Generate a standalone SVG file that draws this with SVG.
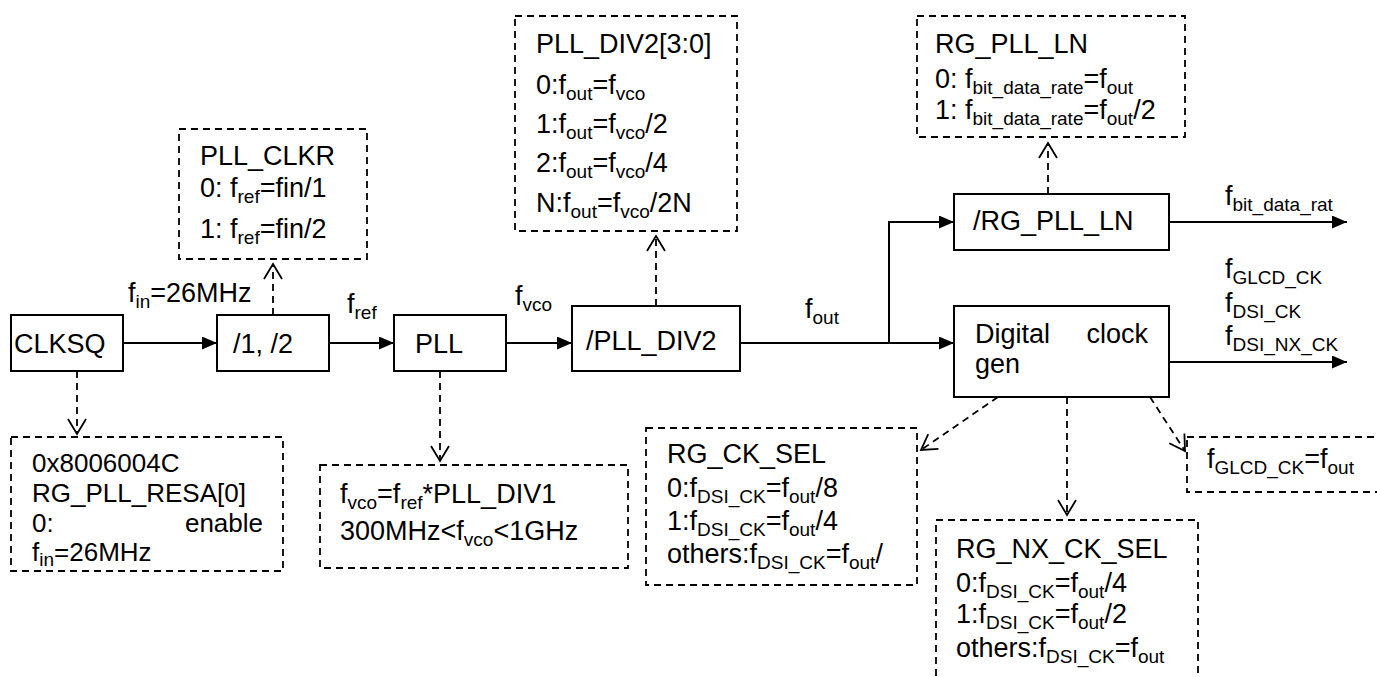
<svg xmlns="http://www.w3.org/2000/svg" width="1377" height="677" viewBox="0 0 1377 677">
<style>
text{font-family:"Liberation Sans",Arial,sans-serif;font-size:27px;fill:#000}
.s{font-size:19px}
.r{font-size:26px}
.box{fill:#fff;stroke:#000;stroke-width:2}
.dbox{fill:#fff;stroke:#000;stroke-width:1.8;stroke-dasharray:7,5}
.ln{fill:none;stroke:#000;stroke-width:2}
.dl{fill:none;stroke:#000;stroke-width:1.8;stroke-dasharray:7,5}
</style>
<defs>
<marker id="fa" markerUnits="userSpaceOnUse" markerWidth="16" markerHeight="14" refX="15" refY="6.5" orient="auto"><path d="M0,0 L15,6.5 L0,13 Z" fill="#000"/></marker>
<marker id="oa" markerUnits="userSpaceOnUse" markerWidth="18" markerHeight="22" refX="16" refY="10" orient="auto"><path d="M1,1 L16,10 L1,19" fill="none" stroke="#000" stroke-width="1.8"/></marker>
</defs>
<rect width="1377" height="677" fill="#fff"/>

<g id="connectors">
<line class="ln" x1="123" y1="343" x2="217" y2="343" marker-end="url(#fa)"/>
<line class="ln" x1="329" y1="343" x2="394" y2="343" marker-end="url(#fa)"/>
<line class="ln" x1="506" y1="343" x2="572" y2="343" marker-end="url(#fa)"/>
<line class="ln" x1="740" y1="343" x2="954" y2="343" marker-end="url(#fa)"/>
<polyline class="ln" points="889,343 889,222 954,222" marker-end="url(#fa)"/>
<line class="ln" x1="1169" y1="222" x2="1347" y2="222" marker-end="url(#fa)"/>
<line class="ln" x1="1169" y1="362" x2="1347" y2="362" marker-end="url(#fa)"/>
<line class="dl" x1="273" y1="315" x2="273" y2="264" marker-end="url(#oa)"/>
<line class="dl" x1="77" y1="371" x2="77" y2="434" marker-end="url(#oa)"/>
<line class="dl" x1="440" y1="371" x2="440" y2="461" marker-end="url(#oa)"/>
<line class="dl" x1="656" y1="306" x2="656" y2="236" marker-end="url(#oa)"/>
<line class="dl" x1="1048" y1="194" x2="1048" y2="143" marker-end="url(#oa)"/>
<line class="dl" x1="998" y1="397" x2="921" y2="450" marker-end="url(#oa)"/>
<line class="dl" x1="1067" y1="397" x2="1067" y2="515" marker-end="url(#oa)"/>
<line class="dl" x1="1150" y1="397" x2="1185" y2="451" marker-end="url(#oa)"/>
</g>

<g id="labels">
<text x="128" y="302">f<tspan class="s" dy="6">in</tspan><tspan dy="-6">=26MHz</tspan></text>
<text x="347" y="313">f<tspan class="s" dy="6">ref</tspan></text>
<text x="515" y="305">f<tspan class="s" dy="6">vco</tspan></text>
<text x="805" y="318">f<tspan class="s" dy="6">out</tspan></text>
<text x="1225" y="205">f<tspan class="s" dy="6">bit_data_rat</tspan></text>
<text x="1225" y="278">f<tspan class="s" dy="6">GLCD_CK</tspan></text>
<text x="1225" y="312">f<tspan class="s" dy="6">DSI_CK</tspan></text>
<text x="1225" y="345">f<tspan class="s" dy="6">DSI_NX_CK</tspan></text>
</g>

<g id="clksq">
<rect class="box" x="11" y="315" width="112" height="56"/>
<text x="14" y="353">CLKSQ</text>
</g>
<g id="div12">
<rect class="box" x="217" y="315" width="112" height="56"/>
<text x="233" y="353">/1, /2</text>
</g>
<g id="pll">
<rect class="box" x="394" y="315" width="112" height="56"/>
<text x="415" y="353">PLL</text>
</g>
<g id="plldiv2">
<rect class="box" x="572" y="306" width="168" height="65"/>
<text x="586" y="350">/PLL_DIV2</text>
</g>
<g id="rgpllln">
<rect class="box" x="954" y="194" width="215" height="56"/>
<text x="973" y="230">/RG_PLL_LN</text>
</g>
<g id="digclk">
<rect class="box" x="954" y="306" width="215" height="91"/>
<text x="975" y="343">Digital</text>
<text x="1148" y="343" text-anchor="end">clock</text>
<text x="975" y="373">gen</text>
</g>

<g id="pllclkr">
<rect class="dbox" x="179" y="129" width="188" height="130"/>
<text x="200" y="165">PLL_CLKR</text>
<text x="200" y="197">0: f<tspan class="s" dy="6">ref</tspan><tspan dy="-6">=fin/1</tspan></text>
<text x="200" y="238">1: f<tspan class="s" dy="6">ref</tspan><tspan dy="-6">=fin/2</tspan></text>
</g>
<g id="resa">
<rect class="dbox" x="11" y="437" width="272" height="134"/>
<text class="r" x="32" y="472">0x8006004C</text>
<text class="r" x="32" y="502">RG_PLL_RESA[0]</text>
<text class="r" x="32" y="532">0:</text>
<text class="r" x="263" y="532" text-anchor="end">enable</text>
<text class="r" x="32" y="561">f<tspan class="s" dy="5">in</tspan><tspan dy="-5">=26MHz</tspan></text>
</g>
<g id="pllinfo">
<rect class="dbox" x="320" y="465" width="308" height="103"/>
<text x="340" y="503">f<tspan class="s" dy="6">vco</tspan><tspan dy="-6">=f</tspan><tspan class="s" dy="6">ref</tspan><tspan dy="-6">*PLL_DIV1</tspan></text>
<text x="340" y="540">300MHz&lt;f<tspan class="s" dy="6">vco</tspan><tspan dy="-6">&lt;1GHz</tspan></text>
</g>
<g id="plldiv2info">
<rect class="dbox" x="515" y="16" width="222" height="215"/>
<text x="536" y="53">PLL_DIV2[3:0]</text>
<text x="536" y="94">0:f<tspan class="s" dy="6">out</tspan><tspan dy="-6">=f</tspan><tspan class="s" dy="6">vco</tspan></text>
<text x="536" y="133">1:f<tspan class="s" dy="6">out</tspan><tspan dy="-6">=f</tspan><tspan class="s" dy="6">vco</tspan><tspan dy="-6">/2</tspan></text>
<text x="536" y="172">2:f<tspan class="s" dy="6">out</tspan><tspan dy="-6">=f</tspan><tspan class="s" dy="6">vco</tspan><tspan dy="-6">/4</tspan></text>
<text x="536" y="212">N:f<tspan class="s" dy="6">out</tspan><tspan dy="-6">=f</tspan><tspan class="s" dy="6">vco</tspan><tspan dy="-6">/2N</tspan></text>
</g>
<g id="rgplllninfo">
<rect class="dbox" x="917" y="16" width="268" height="121"/>
<text x="935" y="53">RG_PLL_LN</text>
<text x="935" y="88">0: f<tspan class="s" dy="6">bit_data_rate</tspan><tspan dy="-6">=f</tspan><tspan class="s" dy="6">out</tspan></text>
<text x="935" y="119">1: f<tspan class="s" dy="6">bit_data_rate</tspan><tspan dy="-6">=f</tspan><tspan class="s" dy="6">out</tspan><tspan dy="-6">/2</tspan></text>
</g>
<g id="rgcksel">
<rect class="dbox" x="646" y="428" width="271" height="157"/>
<text x="667" y="463">RG_CK_SEL</text>
<text x="667" y="497">0:f<tspan class="s" dy="6">DSI_CK</tspan><tspan dy="-6">=f</tspan><tspan class="s" dy="6">out</tspan><tspan dy="-6">/8</tspan></text>
<text x="667" y="530">1:f<tspan class="s" dy="6">DSI_CK</tspan><tspan dy="-6">=f</tspan><tspan class="s" dy="6">out</tspan><tspan dy="-6">/4</tspan></text>
<text x="667" y="563">others:f<tspan class="s" dy="6">DSI_CK</tspan><tspan dy="-6">=f</tspan><tspan class="s" dy="6">out</tspan><tspan dy="-6">/</tspan></text>
</g>
<g id="rgnxcksel">
<rect class="dbox" x="936" y="520" width="262" height="200"/>
<text x="956" y="558">RG_NX_CK_SEL</text>
<text x="956" y="592">0:f<tspan class="s" dy="6">DSI_CK</tspan><tspan dy="-6">=f</tspan><tspan class="s" dy="6">out</tspan><tspan dy="-6">/4</tspan></text>
<text x="956" y="623">1:f<tspan class="s" dy="6">DSI_CK</tspan><tspan dy="-6">=f</tspan><tspan class="s" dy="6">out</tspan><tspan dy="-6">/2</tspan></text>
<text x="956" y="657">others:f<tspan class="s" dy="6">DSI_CK</tspan><tspan dy="-6">=f</tspan><tspan class="s" dy="6">out</tspan></text>
</g>
<g id="glcd">
<rect class="dbox" x="1187" y="437" width="220" height="55"/>
<text x="1207" y="468">f<tspan class="s" dy="6">GLCD_CK</tspan><tspan dy="-6">=f</tspan><tspan class="s" dy="6">out</tspan></text>
</g>
</svg>
